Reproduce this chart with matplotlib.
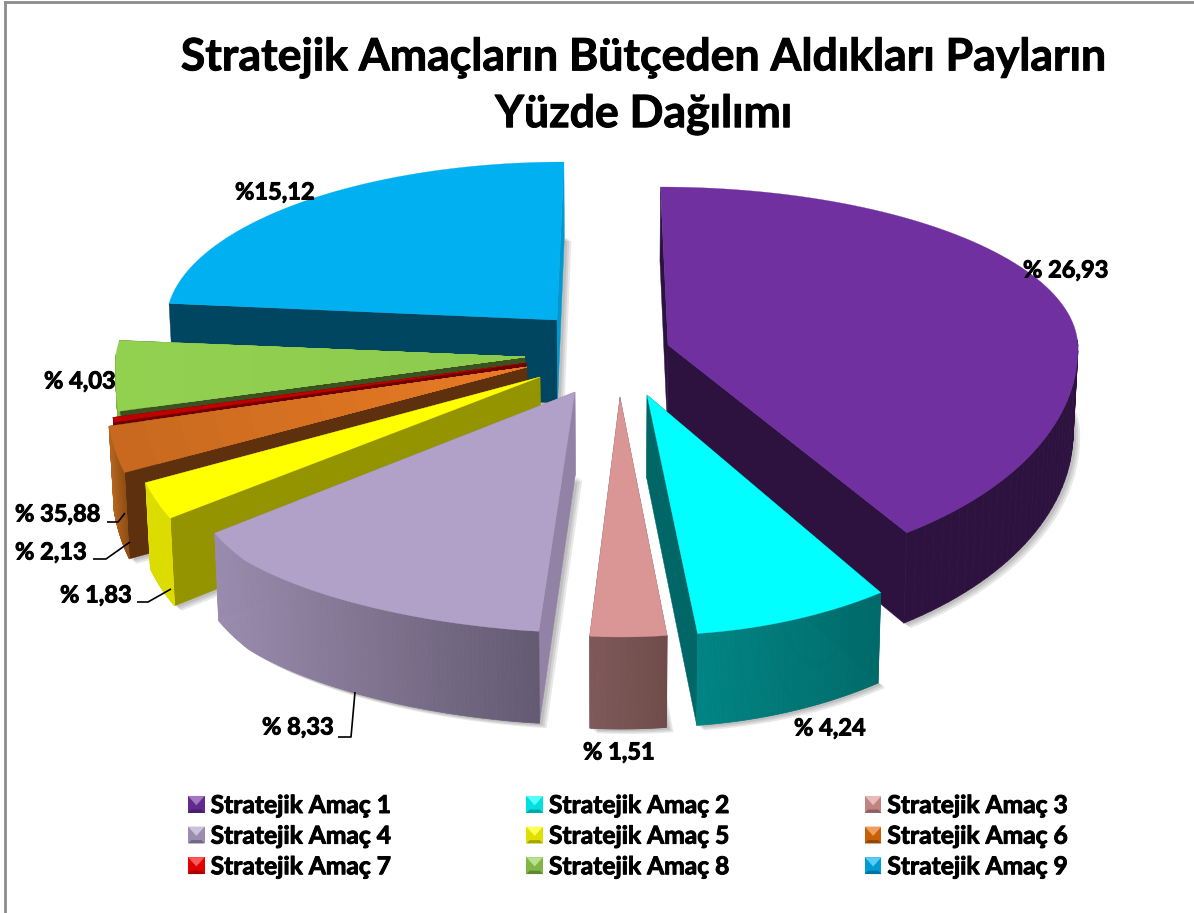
# coding: utf-8
import numpy as np
import matplotlib
matplotlib.use("Agg")
import matplotlib.pyplot as plt
import matplotlib.patheffects as pe
from matplotlib.collections import PolyCollection
from matplotlib.colors import to_rgb
from matplotlib.legend_handler import HandlerBase
from matplotlib.patches import Patch, Polygon

plt.rcParams['font.family'] = ['Lato', 'DejaVu Sans']
plt.rcParams['font.weight'] = 'bold'

# the drawn slices do not follow the printed labels in the source chart,
# so the shares are read from the slice angles
names = ["Stratejik Amaç 1", "Stratejik Amaç 2", "Stratejik Amaç 3",
         "Stratejik Amaç 4", "Stratejik Amaç 5", "Stratejik Amaç 6",
         "Stratejik Amaç 7", "Stratejik Amaç 8", "Stratejik Amaç 9"]
shares = [40.4, 7.8, 3.05, 15.14, 2.78, 3.06, 0.28, 4.17, 23.33]
label_texts = ["% 26,93", "% 4,24", "% 1,51", "% 8,33", "% 1,83",
               "% 2,13", "% 35,88", "% 4,03", "%15,12"]
title = "Stratejik Amaçların Bütçeden Aldıkları Payların\nYüzde Dağılımı"

# styles
top_col = ["#7030A0", "#00FFFF", "#D99694", "#B1A0C7", "#FFFF00",
           "#C8691F", "#C00000", "#92D050", "#00B0F0"]
top_inner = ["#7030A0", "#00FFFF", "#D99694", "#B1A0C7", "#FFFF00",
             "#E87B24", "#C00000", "#8CCB4E", "#00B0F0"]
face_col = ["#2D1240", "#006666", "#7F5654", "#9283A6", "#949400",
            "#5E300E", "#700000", "#3B5220", "#004660"]
face_end = ["#2D1240", "#006666", "#7F5654", "#9283A6", "#949400",
            "#5E300E", "#700000", "#3B5220", "#0098D0"]
rim_left = ["#2D1240", "#008484", "#80595A", "#9A8CAE", "#DCDC00",
            "#B5651D", "#800000", "#7DB344", "#0090C8"]
rim_right = ["#2D1240", "#006A6A", "#6F4C4A", "#645A72", "#DCDC00",
             "#8E4E14", "#800000", "#7DB344", "#0090C8"]
legend_col = ["#7030A0", "#00FFFF", "#D99694", "#B1A0C7", "#FFFF00",
              "#E46C0A", "#FF0000", "#92D050", "#00B0F0"]

# layout, in picture pixels
cx, cy = 610, 359
rx, ry_up, ry_down = 405, 158, 240
depth0, depth1 = 83, 9
explode_x = [58, 37, 10, -35, -70, -83, -84, -85, -53]
explode_y = [-14, 36, 38, 33, 18, 8, 4, -2, -39]
rx_scale = [1.012, 1.0, 1.0, 1.0, 1.02, 1.04, 1.025, 1.01, 0.965]
ry_scale = [0.95, 1.0, 1.0, 1.0, 1.0, 1.0, 1.0, 1.0, 1.0]
draw_order = [8, 0, 7, 6, 5, 4, 3, 2, 1]
label_pos = [(1023, 270), (794, 728), (583, 752), (262, 727), (60, 595),
             (15, 552), (15, 514), (44, 381), (235, 192)]
leaders = [([338, 351, 355], [737, 737, 692]),
           ([137, 148, 171], [602, 602, 589]),
           ([93, 106, 130], [559, 559, 542]),
           ([107, 118, 125], [522, 522, 513])]
fat = [pe.withStroke(linewidth=0.7, foreground="black")]


def point(i, th, r=1.0, down=0.0):
    # th is clockwise from the top, perspective makes the front half deeper
    ax0 = cx + explode_x[i]
    ay0 = cy + explode_y[i]
    s = np.sin(th)
    c = np.cos(th)
    # the lower left part of the rim bulges outward
    w = np.clip((np.degrees(th) - 190) / 40, 0, 1)
    p = 1 - 0.2 * w
    bulge = (s < 0) & (c < 0)
    sp = np.where(bulge, -np.abs(s) ** p, s)
    cp = np.where(bulge, -np.abs(c) ** p, c)
    ry = np.where(c > 0, ry_up, ry_down * ry_scale[i])
    x = ax0 + rx * rx_scale[i] * r * sp - explode_x[i] * 0.13 * c * r
    y = ay0 - ry * r * cp
    d = depth0 - depth1 * c * r
    return x - (x - cx) * 0.01 * down, y + d * down


def mix(a, b, t):
    a = np.array(to_rgb(a))
    b = np.array(to_rgb(b))
    return tuple(a + (b - a) * t)


fig = plt.figure(figsize=(11.94, 9.13), dpi=100)
ax = fig.add_axes([0, 0, 1, 1])
ax.set_xlim(0, 1194)
ax.set_ylim(913, 0)
ax.axis('off')

edges = np.radians(np.concatenate([[0], np.cumsum(shares)]) / np.sum(shares) * 360)
z = 2
for i in draw_order:
    t0, t1 = edges[i], edges[i + 1]
    ths = np.linspace(t0, t1, 90)

    # soft shadow under the slice
    xb, yb = point(i, ths, 1.0, 1.0)
    ab = point(i, np.array([t0]), 0.0, 1.0)
    sx = np.concatenate([ab[0], xb])
    sy = np.concatenate([ab[1], yb])
    for off in [7, 5, 3]:
        ax.fill(sx + off, sy + off * 0.7, color="black", alpha=0.09, lw=0, zorder=z)
    z += 1

    # the two cut faces
    for t, col in [(t0, face_col[i]), (t1, face_end[i])]:
        xo, yo = point(i, np.array([t]), 1.0, 0.0)
        xo2, yo2 = point(i, np.array([t]), 1.0, 1.0)
        xa, ya = point(i, np.array([t]), 0.0, 0.0)
        xa2, ya2 = point(i, np.array([t]), 0.0, 1.0)
        ax.fill([xa[0], xo[0], xo2[0], xa2[0]], [ya[0], yo[0], yo2[0], ya2[0]],
                color=col, lw=0.3, zorder=z)
    z += 1

    # rim, shaded from left to right, only the front half shows
    xt, yt = point(i, ths, 1.0, 0.0)
    xb, yb = point(i, ths, 1.0, 1.0)
    quads = []
    cols = []
    for k in range(len(ths) - 1):
        if np.cos((ths[k] + ths[k + 1]) / 2) > 0.02:
            continue
        quads.append([(xt[k], yt[k]), (xt[k + 1], yt[k + 1]),
                      (xb[k + 1], yb[k + 1]), (xb[k], yb[k])])
        lo, hi = xt.min(), xt.max()
        cols.append(mix(rim_left[i], rim_right[i], (xt[k] - lo) / max(hi - lo, 1)))
    if quads:
        ax.add_collection(PolyCollection(quads, facecolors=cols, edgecolors=cols,
                                         linewidths=0.5, zorder=z))
    z += 1

    # top, in rings so that the orange slice gets its gradient
    steps = 12 if top_col[i] != top_inner[i] else 1
    for s in range(steps):
        r = 1 - s / steps
        xt, yt = point(i, ths, r, 0.0)
        xa, ya = point(i, np.array([t0]), 0.0, 0.0)
        col = mix(top_col[i], top_inner[i], s / max(steps - 1, 1))
        ax.fill(np.concatenate([xa, xt]), np.concatenate([ya, yt]),
                color=col, lw=0.2, zorder=z)
        z += 1

for xs, ys in leaders:
    ax.plot(xs, ys, color="black", lw=1.2, zorder=z, solid_capstyle='butt')
z += 1

for txt, (lx, ly) in zip(label_texts, label_pos):
    ax.text(lx, ly, txt, fontsize=17, fontweight='bold', color="black",
            ha='left', va='center', zorder=z, path_effects=fat)

ax.text(644, 86, title, fontsize=32.1, fontweight='bold', color="black",
        ha='center', va='center', linespacing=1.42, zorder=z, path_effects=fat)

# frame of the chart area, only top and left are in the picture
ax.plot([5, 5], [913, 2], color="#8C8C8C", lw=2, zorder=z)
ax.plot([5, 1194], [2, 2], color="#8C8C8C", lw=2, zorder=z)


class BevelHandler(HandlerBase):
    def create_artists(self, legend, orig, xd, yd, w, h, fontsize, trans):
        col = orig.get_facecolor()
        x0, y0 = -xd, -yd
        m = h * 0.2
        pts = [
            ([(x0, y0), (x0 + w, y0), (x0 + w, y0 + h), (x0, y0 + h)], mix(col[:3], (0, 0, 0), 0.12)),
            ([(x0, y0), (x0 + w, y0), (x0 + w - m, y0 + m), (x0 + m, y0 + m)], mix(col[:3], (0, 0, 0), 0.35)),
            ([(x0, y0 + h), (x0 + w, y0 + h), (x0 + w / 2, y0 + h * 0.45)], mix(col[:3], (1, 1, 1), 0.35)),
        ]
        return [Polygon(p, closed=True, facecolor=c, edgecolor='none', transform=trans)
                for p, c in pts]


handles = [Patch(facecolor=c, label=n) for c, n in zip(legend_col, names)]
order = [0, 3, 6, 1, 4, 7, 2, 5, 8]
leg = ax.legend([handles[k] for k in order], [names[k] for k in order], ncols=3,
                loc='upper left', bbox_to_anchor=(188, 794),
                bbox_transform=ax.transData, frameon=False, fontsize=17.7,
                handler_map={Patch: BevelHandler()}, borderpad=0, borderaxespad=0,
                handlelength=0.68, handleheight=0.68, handletextpad=0.24,
                labelspacing=0.31, columnspacing=5.5)
leg.set_zorder(z)
for t in leg.get_texts():
    t.set_path_effects(fat)

fig.savefig("out.png", dpi=100, facecolor="white")
